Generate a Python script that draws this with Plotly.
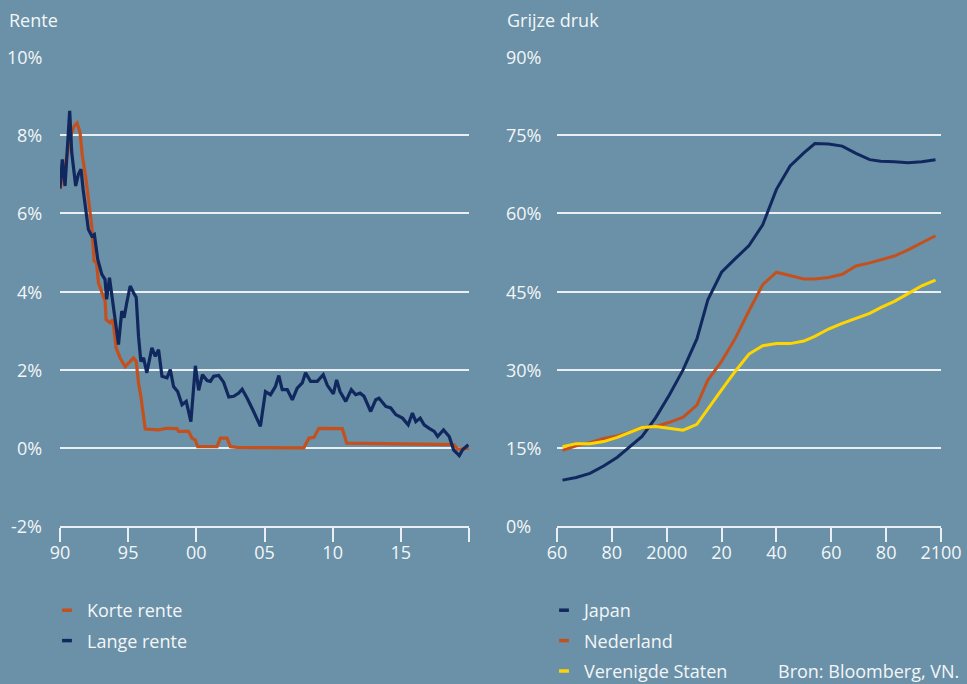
import plotly.graph_objects as go

# --- data ---
# left panel: interest rates (%), decimal years
long_years = [1990.0, 1990.17, 1990.37, 1990.71, 1990.86, 1991.15, 1991.35, 1991.54, 1991.7, 1991.89,
              1992.08, 1992.33, 1992.52, 1992.77, 1993.07, 1993.3, 1993.42, 1993.63, 1993.92, 1994.29,
              1994.53, 1994.7, 1994.9, 1995.15, 1995.39, 1995.59, 1995.76, 1995.93, 1996.13, 1996.37,
              1996.74, 1996.99, 1997.23, 1997.48, 1997.85, 1998.09, 1998.33, 1998.63, 1998.95, 1999.26,
              1999.6, 1999.93, 2000.17, 2000.45, 2000.79, 2001.03, 2001.27, 2001.64, 2002.0, 2002.38,
              2002.74, 2003.11, 2003.36, 2003.73, 2004.2, 2004.7, 2005.07, 2005.44, 2005.8, 2006.05,
              2006.3, 2006.67, 2007.04, 2007.4, 2007.77, 2008.01, 2008.38, 2008.87, 2009.31, 2009.61,
              2010.05, 2010.29, 2010.54, 2010.96, 2011.37, 2011.69, 2012.01, 2012.3, 2012.79, 2013.16,
              2013.4, 2013.9, 2014.26, 2014.63, 2015.12, 2015.54, 2015.85, 2016.1, 2016.42, 2016.71,
              2017.08, 2017.45, 2017.7, 2018.13, 2018.55, 2018.87, 2019.29, 2019.53, 2019.95]
long_rate = [6.64, 7.38, 6.7, 8.62, 7.56, 6.7, 7.0, 7.13, 6.6, 6.1,
             5.59, 5.42, 5.46, 4.82, 4.44, 4.31, 3.8, 4.35, 3.62, 2.64,
             3.5, 3.33, 3.72, 4.14, 3.97, 3.85, 2.85, 2.21, 2.3, 1.92,
             2.56, 2.34, 2.51, 1.83, 1.79, 2.0, 1.57, 1.44, 1.1, 1.19,
             0.67, 2.1, 1.47, 1.87, 1.72, 1.7, 1.83, 1.85, 1.68, 1.3,
             1.32, 1.4, 1.5, 1.27, 0.93, 0.55, 1.44, 1.36, 1.57, 1.85,
             1.49, 1.49, 1.23, 1.53, 1.66, 1.92, 1.7, 1.7, 1.87, 1.6,
             1.38, 1.74, 1.44, 1.19, 1.49, 1.36, 1.4, 1.32, 0.93, 1.23,
             1.27, 1.06, 1.02, 0.85, 0.76, 0.59, 0.89, 0.67, 0.76, 0.59,
             0.5, 0.42, 0.29, 0.46, 0.29, -0.05, -0.2, -0.05, 0.08]

short_years = [1990.0, 1990.49, 1990.86, 1991.05, 1991.25, 1991.47, 1991.64, 1991.89, 1992.08, 1992.33,
               1992.5, 1992.68, 1992.82, 1993.07, 1993.31, 1993.38, 1993.68, 1993.87, 1994.12, 1994.41,
               1994.78, 1995.15, 1995.39, 1995.59, 1995.76, 1995.93, 1996.08, 1996.25, 1997.23, 1997.85,
               1998.58, 1998.7, 1999.43, 1999.68, 1999.93, 2000.1, 2001.52, 2001.76, 2002.25, 2002.5,
               2003.0, 2007.89, 2008.26, 2008.63, 2008.99, 2010.71, 2011.03, 2014.0, 2018.9, 2019.16,
               2020.0]
short_rate = [6.62, 7.43, 8.07, 8.24, 8.31, 8.07, 7.47, 6.92, 6.36, 5.67,
              4.78, 4.73, 4.22, 3.97, 3.75, 3.28, 3.2, 3.28, 2.55, 2.3,
              2.08, 2.21, 2.3, 2.21, 1.66, 1.32, 0.97, 0.48, 0.46, 0.5,
              0.49, 0.42, 0.42, 0.25, 0.2, 0.03, 0.03, 0.25, 0.25, 0.03,
              0.01, 0.0, 0.25, 0.27, 0.5, 0.49, 0.12, 0.1, 0.08, -0.03,
              -0.01]

# right panel: old-age dependency ratio (%)
demo_years = [1962, 1967, 1972, 1977, 1982, 1986, 1991, 1996, 2001, 2006,
              2011, 2015, 2020, 2025, 2030, 2035, 2040, 2045, 2050, 2054,
              2059, 2064, 2069, 2074, 2078, 2083, 2088, 2093, 2098]
japan = [8.8, 9.3, 10.1, 11.5, 13.2, 14.9, 17.2, 20.8, 25.2, 30.0,
         35.9, 43.4, 48.7, 51.3, 53.8, 57.8, 64.6, 69.1, 71.6, 73.4,
         73.3, 72.9, 71.5, 70.3, 70.0, 69.9, 69.7, 69.9, 70.3]
nederland = [14.5, 15.4, 16.0, 16.8, 17.3, 17.9, 18.9, 19.1, 19.9, 20.9,
             23.2, 28.0, 31.6, 36.0, 41.3, 46.3, 48.7, 48.1, 47.4, 47.4,
             47.7, 48.3, 49.9, 50.5, 51.1, 51.8, 53.0, 54.4, 55.7]
vs = [15.2, 15.8, 15.8, 16.2, 17.0, 17.8, 18.9, 19.1, 18.7, 18.4,
      19.5, 22.5, 26.1, 29.7, 33.0, 34.6, 35.0, 35.0, 35.5, 36.4,
      37.8, 38.9, 39.8, 40.8, 41.9, 43.1, 44.6, 46.1, 47.2]

left_yticks = [-2, 0, 2, 4, 6, 8, 10]
left_ytext = ["-2%", "0%", "2%", "4%", "6%", "8%", "10%"]
left_xticks = [1990, 1995, 2000, 2005, 2010, 2015, 2020]
left_xtext = ["90", "95", "00", "05", "10", "15", ""]
right_yticks = [0, 15, 30, 45, 60, 75, 90]
right_ytext = ["0%", "15%", "30%", "45%", "60%", "75%", "90%"]
right_xticks = [1960, 1980, 2000, 2020, 2040, 2060, 2080, 2100]
right_xtext = ["60", "80", "2000", "20", "40", "60", "80", "2100"]

BG = "#6a91a7"
NAVY = "#10285e"
ORANGE = "#c4511d"
YELLOW = "#ffd500"
TXT = "#f3f6f8"
GRID = "#e9eff3"
FONT = "Open Sans"
W, H = 967, 684

def px(x):
    return x / W

def py(y):
    return 1 - y / H

fig = go.Figure()

# left panel lines
fig.add_trace(go.Scatter(x=short_years, y=short_rate, mode="lines", line=dict(color=ORANGE, width=3.2),
                         showlegend=False, xaxis="x", yaxis="y"))
fig.add_trace(go.Scatter(x=long_years, y=long_rate, mode="lines", line=dict(color=NAVY, width=3.2),
                         showlegend=False, xaxis="x", yaxis="y"))

# right panel lines
fig.add_trace(go.Scatter(x=demo_years, y=japan, mode="lines", line=dict(color=NAVY, width=3),
                         showlegend=False, xaxis="x2", yaxis="y2"))
fig.add_trace(go.Scatter(x=demo_years, y=nederland, mode="lines", line=dict(color=ORANGE, width=3),
                         showlegend=False, xaxis="x2", yaxis="y2"))
fig.add_trace(go.Scatter(x=demo_years, y=vs, mode="lines", line=dict(color=YELLOW, width=3),
                         showlegend=False, xaxis="x2", yaxis="y2"))

# legend entries (short thick dash like the original)
def legend_item(name, color, legend, group):
    return go.Scatter(x=[None], y=[None], mode="markers", name=name, legend=legend, legendgroup=group,
                      marker=dict(symbol="line-ew", size=7, color=color, line=dict(color=color, width=3.5)),
                      xaxis="x", yaxis="y")

fig.add_trace(legend_item("Korte rente", ORANGE, "legend", "a"))
fig.add_trace(legend_item("Lange rente", NAVY, "legend", "b"))
fig.add_trace(legend_item("Japan", NAVY, "legend2", "c"))
fig.add_trace(legend_item("Nederland", ORANGE, "legend2", "d"))
fig.add_trace(legend_item("Verenigde Staten", YELLOW, "legend2", "e"))

xcommon = dict(showgrid=False, zeroline=False, showline=True, linecolor=GRID, linewidth=1.5,
               ticks="outside", ticklen=14, tickwidth=1.5, tickcolor=GRID, ticklabelstandoff=-4,
               tickfont=dict(family=FONT, size=18, color=TXT), automargin=False)
ycommon = dict(showgrid=True, gridcolor=GRID, gridwidth=1.5, zeroline=False, showline=False,
               showticklabels=False, ticks="", automargin=False)

legend_top = py(592)
fig.update_layout(
    width=W, height=H,
    paper_bgcolor=BG, plot_bgcolor=BG,
    margin=dict(l=0, r=0, t=0, b=0, autoexpand=False),
    font=dict(family=FONT, size=18, color=TXT),
    xaxis=dict(domain=[px(60), px(469)], range=[1990, 2020], tickvals=left_xticks, ticktext=left_xtext,
               anchor="y", **xcommon),
    yaxis=dict(domain=[py(526), py(57)], range=[-2, 10], tickvals=left_yticks, anchor="x", **ycommon),
    xaxis2=dict(domain=[px(557), px(941)], range=[1960, 2100], tickvals=right_xticks, ticktext=right_xtext,
                anchor="y2", **xcommon),
    yaxis2=dict(domain=[py(526), py(57)], range=[0, 90], tickvals=right_yticks, anchor="x2", **ycommon),
    legend=dict(x=px(47), y=legend_top, xanchor="left", yanchor="top", bgcolor="rgba(0,0,0,0)",
                font=dict(family=FONT, size=18, color=TXT), traceorder="grouped", tracegroupgap=4,
                itemclick=False),
    legend2=dict(x=px(544), y=legend_top, xanchor="left", yanchor="top", bgcolor="rgba(0,0,0,0)",
                 font=dict(family=FONT, size=18, color=TXT), traceorder="grouped", tracegroupgap=4,
                 itemclick=False),
)

annotations = [
    dict(text="Rente", x=px(7), y=py(20), xref="paper", yref="paper", xanchor="left", yanchor="middle",
         showarrow=False, font=dict(family=FONT, size=18, color=TXT)),
    dict(text="Grijze druk", x=px(505), y=py(20), xref="paper", yref="paper", xanchor="left",
         yanchor="middle", showarrow=False, font=dict(family=FONT, size=18, color=TXT)),
    dict(text="Bron: Bloomberg, VN.", x=px(961), y=py(671), xref="paper", yref="paper", xanchor="right",
         yanchor="middle", showarrow=False, font=dict(family=FONT, size=18, color=TXT)),
]
for v, t in zip(left_yticks, left_ytext):
    annotations.append(dict(text=t, x=px(44), y=v, xref="paper", yref="y", xanchor="right", yanchor="middle",
                            showarrow=False, font=dict(family=FONT, size=18, color=TXT)))
for v, t in zip(right_yticks, right_ytext):
    annotations.append(dict(text=t, x=px(504), y=v, xref="paper", yref="y2", xanchor="left", yanchor="middle",
                            showarrow=False, font=dict(family=FONT, size=18, color=TXT)))
fig.update_layout(annotations=annotations)

# drop the browser's default page margin so the figure fills the window
fig.write_html("out.html", config={"displayModeBar": False},
               post_script="document.body.style.margin='0';document.body.style.background='%s';" % BG)
